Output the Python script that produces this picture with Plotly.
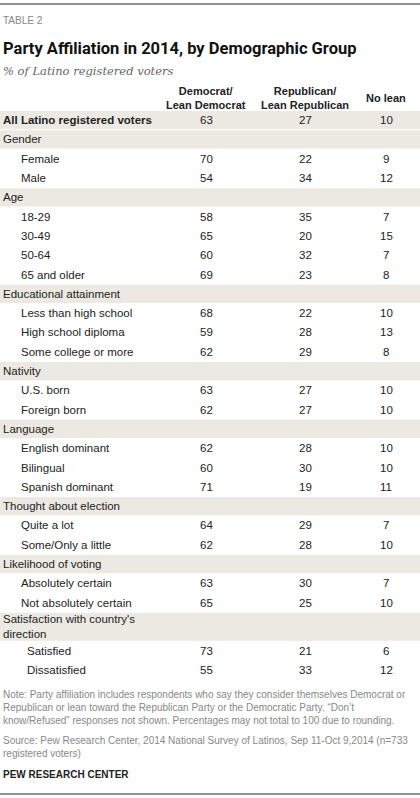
import plotly.graph_objects as go

labels = ["All Latino registered voters", "Gender", "Female", "Male", "Age", "18-29", "30-49", "50-64",
          "65 and older", "Educational attainment", "Less than high school", "High school diploma",
          "Some college or more", "Nativity", "U.S. born", "Foreign born", "Language", "English dominant",
          "Bilingual", "Spanish dominant", "Thought about election", "Quite a lot", "Some/Only a little",
          "Likelihood of voting", "Absolutely certain", "Not absolutely certain",
          "Satisfaction with country's<br>direction", "Satisfied", "Dissatisfied"]
kinds = ["all", "sec", "r", "r", "sec", "r", "r", "r", "r", "sec", "r", "r", "r", "sec", "r", "r", "sec",
         "r", "r", "r", "sec", "r", "r", "sec", "r", "r", "sec2", "r2", "r2"]
dem = [63, None, 70, 54, None, 58, 65, 60, 69, None, 68, 59, 62, None, 63, 62, None, 62, 60, 71, None,
       64, 62, None, 63, 65, None, 73, 55]
rep = [27, None, 22, 34, None, 35, 20, 32, 23, None, 22, 28, 29, None, 27, 27, None, 28, 30, 19, None,
       29, 28, None, 30, 25, None, 21, 33]
nolean = [10, None, 9, 12, None, 7, 15, 7, 8, None, 10, 13, 8, None, 10, 10, None, 10, 10, 11, None,
          7, 10, None, 7, 10, None, 6, 12]
col_headers = ["Democrat/<br>Lean Democrat", "Republican/<br>Lean Republican", "No lean"]
col_x = [206, 305, 386]

FONT = "Liberation Sans Narrow, Liberation Sans, Arial"
TXT = "#222"
SHADE = "#ECE9E2"
fig = go.Figure()
shapes, ann = [], []

def A(x, y, text, size=11.5, color=TXT, xanchor="left", family=FONT, **kw):
    ann.append(dict(x=x, y=y, xref="x", yref="y", text=text, showarrow=False, xanchor=xanchor,
                    yanchor="middle", font=dict(size=size, color=color, family=family), **kw))

shapes.append(dict(type="line", x0=0, x1=420, y0=4, y1=4, line=dict(color="#222", width=1.2)))
shapes.append(dict(type="line", x0=0, x1=420, y0=794, y1=794, line=dict(color="#222", width=1.2)))
A(1, 20, "TABLE 2", size=10, color="#888")
A(1, 48, "<b>Party Affiliation in 2014, by Demographic Group</b>", size=16.5, color="#111",
  family="Liberation Sans Narrow, Roboto, Arial")
A(1, 71, "<i>% of Latino registered voters</i>", size=11.5, color="#666", family="DejaVu Serif, serif")
for x, h in zip(col_x, col_headers):
    A(x, 98, "<b>" + h + "</b>", size=11, xanchor="center", align="center")

y = 110.5
RH = 19.3
for lab, k, d, r, n in zip(labels, kinds, dem, rep, nolean):
    h = 29 if k == "sec2" else RH
    yc = y + h / 2
    if k in ("all", "sec", "sec2"):
        shapes.append(dict(type="rect", x0=0, x1=420, y0=y + 0.5, y1=y + h - 0.5, fillcolor=SHADE,
                           line=dict(width=0), layer="below"))
    if k == "all":
        A(1, yc, "<b>" + lab + "</b>")
    elif k in ("sec", "sec2"):
        A(1, yc, lab, align="left")
    else:
        A(25 if k == "r2" else 19, yc, lab)
    if d is not None:
        for x, v in zip(col_x, (d, r, n)):
            A(x, yc, str(v), xanchor="center")
    y += h

A(1, 707, "Note: Party affiliation includes respondents who say they consider themselves Democrat or<br>"
          "Republican or lean toward the Republican Party or the Democratic Party. \u201cDon\u2019t<br>"
          "know/Refused\u201d responses not shown. Percentages may not total to 100 due to rounding.",
  size=10, color="#888", align="left")
A(1, 747, "Source: Pew Research Center, 2014 National Survey of Latinos, Sep 11-Oct 9,2014 (n=733<br>"
          "registered voters)", size=10, color="#888", align="left")
A(1, 774, "<b>PEW RESEARCH CENTER</b>", size=10, color="#222")

fig.add_trace(go.Scatter(x=[0, 420], y=[0, 798], mode="markers", marker=dict(opacity=0),
                         hoverinfo="skip", showlegend=False))
fig.update_layout(width=420, height=798, margin=dict(l=0, r=0, t=0, b=0),
                  paper_bgcolor="white", plot_bgcolor="white", shapes=shapes, annotations=ann,
                  xaxis=dict(range=[0, 420], visible=False, fixedrange=True),
                  yaxis=dict(range=[798, 0], visible=False, fixedrange=True))
fig.write_html("out.html", config={"displayModeBar": False},
               post_script="document.body.style.margin='0';document.body.style.overflow='hidden';")
